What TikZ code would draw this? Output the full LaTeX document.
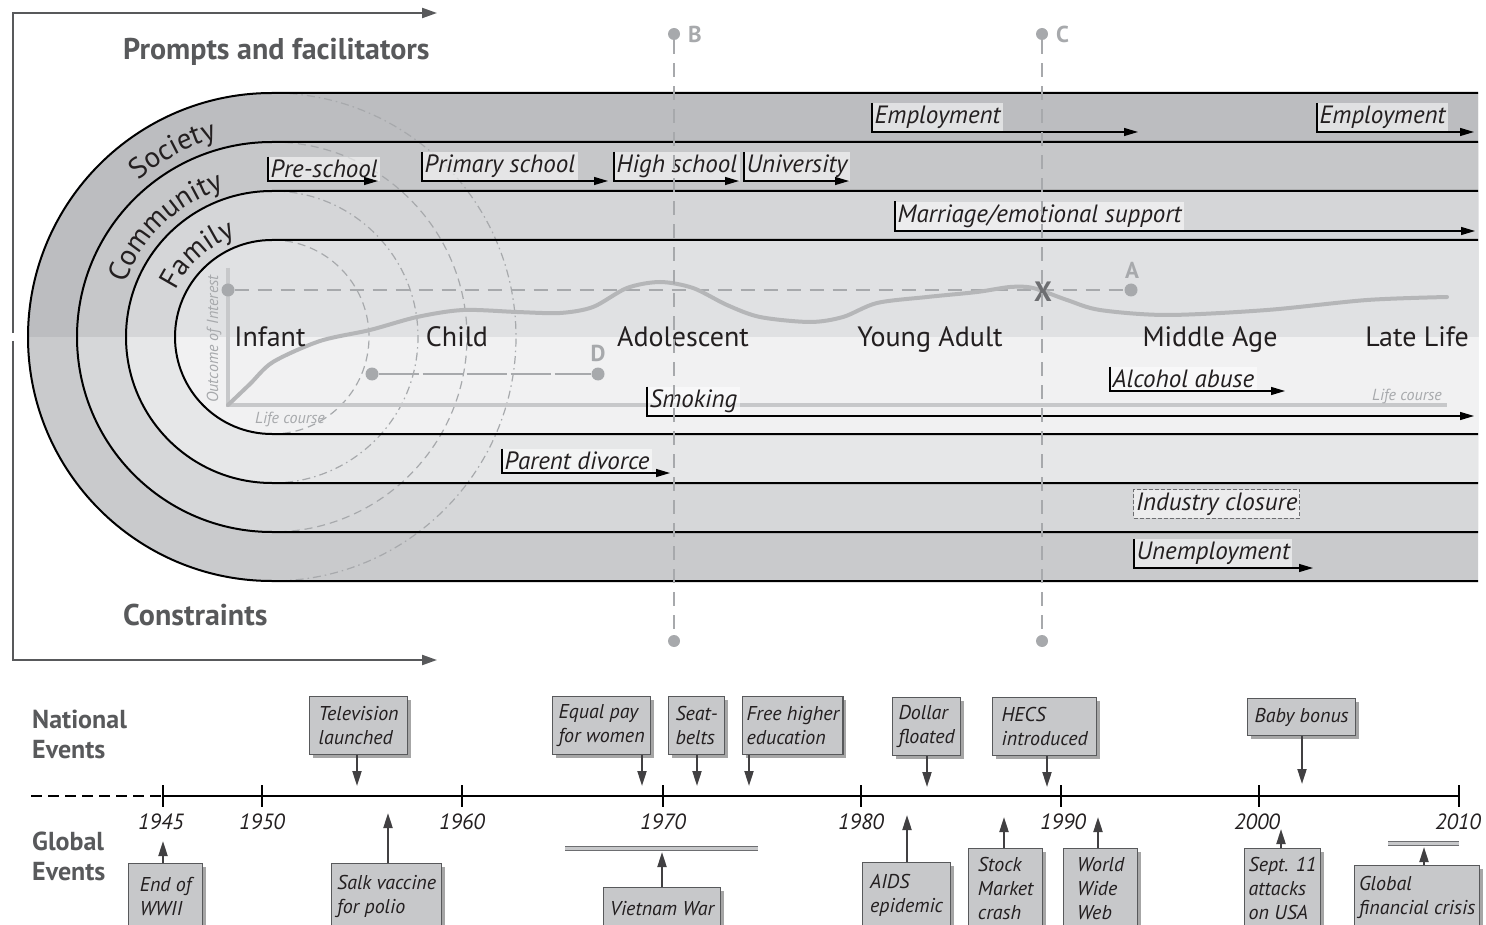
\documentclass[tikz,border=0pt]{standalone}
\usepackage{fontspec}
\setmainfont{PT Sans}
\usepackage{tikz}
\usetikzlibrary{arrows.meta}
\usetikzlibrary{decorations.text}
\usetikzlibrary{shadows}

\definecolor{ink}{HTML}{231F20}
\definecolor{headgrey}{HTML}{58595B}
\definecolor{markgrey}{HTML}{A7A9AC}
\definecolor{xgrey}{HTML}{6D6E71}
\definecolor{axisgrey}{HTML}{C7C8CA}
\definecolor{curvegrey}{HTML}{B5B6B8}
\definecolor{socup}{HTML}{BCBDC0}
\definecolor{soclo}{HTML}{C9CACC}
\definecolor{comup}{HTML}{C6C7C9}
\definecolor{comlo}{HTML}{D6D7D9}
\definecolor{famup}{HTML}{D5D6D8}
\definecolor{famlo}{HTML}{E6E7E8}
\definecolor{innup}{HTML}{E0E1E3}
\definecolor{innlo}{HTML}{F1F1F2}
\definecolor{boxfill}{HTML}{C7C8CA}
\definecolor{boxline}{HTML}{58595B}
\definecolor{arrowgrey}{HTML}{414042}

\newcommand\fsz[2]{\fontsize{#1}{#2}\selectfont}

\begin{document}
\begin{tikzpicture}[x=1pt,y=-1pt,
    frame/.style={draw=headgrey,line width=2.2pt,-{Triangle[length=15pt,width=10pt]}},
    heading/.style={font=\bfseries\fsz{30}{32},text=headgrey,inner sep=0pt,anchor=base west},
    band/.style={draw=black,line width=2pt},
    ringdash/.style={draw=markgrey,line width=1.2pt,dash pattern=on 8pt off 5pt},
    ringdot/.style={draw=markgrey,line width=1.2pt,dash pattern=on 8pt off 4pt on 1.5pt off 4pt},
    ringtext/.style={decorate,decoration={text along path,text align=center,text color=ink,text={#1}}},
    stage/.style={font=\fsz{28}{30},text=ink,inner sep=0pt,anchor=base},
    smallgrey/.style={font=\itshape\fsz{16}{18},text=markgrey,inner sep=0pt},
    axis/.style={draw=axisgrey,line width=3.5pt},
    lifeline/.style={draw=curvegrey,line width=4pt,line cap=round},
    guide/.style={draw=markgrey,line width=2.2pt,dash pattern=on 14pt off 9pt},
    dot/.style={circle,fill=markgrey,inner sep=0pt,minimum size=13pt},
    marker/.style={font=\bfseries\fsz{23}{24},text=markgrey,inner sep=0pt},
    tag/.style={anchor=south west,fill=white,fill opacity=.55,text opacity=1,text=ink,
      font=\itshape\fsz{25}{27},inner xsep=2.5pt,inner ysep=3pt},
    tagarrow/.style={draw=black,line width=1.2pt,-{Triangle[length=14pt,width=8pt]}},
    evbox/.style={anchor=north west,draw=boxline,fill=boxfill,line width=1.3pt,
      drop shadow={shadow xshift=3pt,shadow yshift=-3pt,fill=black,opacity=.35},
      font=\itshape\fsz{20}{24},text=ink,align=left,inner xsep=4pt,inner ysep=3pt},
    evarrow/.style={draw=arrowgrey,line width=2pt,-{Triangle[length=15pt,width=9pt]}},
    year/.style={font=\itshape\fsz{22}{24},text=ink,inner sep=0pt,anchor=base},
    tick/.style={draw=black,line width=2.5pt},
    span/.style={draw=xgrey,line width=1pt,double=axisgrey,double distance=3pt},
  ]
  \useasboundingbox (0,0) rectangle (1486,925);

  \coordinate (pf-start) at (13,333);
  \coordinate (pf-end) at (437,13);
  \coordinate (con-start) at (13,341);
  \coordinate (con-end) at (437,660);
  \draw[frame] (pf-start) |- (pf-end);
  \draw[frame] (con-start) |- (con-end);
  \node[heading] (prompts) at (123,60) {Prompts and facilitators};
  \node[heading] (constraints) at (123,625) {Constraints};

  \fill[soclo] (1478,93) -- (272,93) arc[start angle=90,end angle=270,radius=244pt] -- (1478,581) -- cycle;
  \fill[comlo] (1478,142) -- (272,142) arc[start angle=90,end angle=270,radius=195pt] -- (1478,532) -- cycle;
  \fill[famlo] (1478,191) -- (272,191) arc[start angle=90,end angle=270,radius=146pt] -- (1478,483) -- cycle;
  \fill[innlo] (1478,240) -- (272,240) arc[start angle=90,end angle=270,radius=97pt] -- (1478,434) -- cycle;
  \begin{scope}
    \clip (0,0) rectangle (1486,337);
    \fill[socup] (1478,93) -- (272,93) arc[start angle=90,end angle=270,radius=244pt] -- (1478,581) -- cycle;
    \fill[comup] (1478,142) -- (272,142) arc[start angle=90,end angle=270,radius=195pt] -- (1478,532) -- cycle;
    \fill[famup] (1478,191) -- (272,191) arc[start angle=90,end angle=270,radius=146pt] -- (1478,483) -- cycle;
    \fill[innup] (1478,240) -- (272,240) arc[start angle=90,end angle=270,radius=97pt] -- (1478,434) -- cycle;
  \end{scope}

  \draw[ringdash] (272,240) arc[start angle=90,end angle=-90,radius=97pt];
  \draw[ringdot] (272,191) arc[start angle=90,end angle=-90,radius=146pt];
  \draw[ringdash] (272,142) arc[start angle=90,end angle=-90,radius=195pt];
  \draw[ringdot] (272,93) arc[start angle=90,end angle=-90,radius=244pt];

  \draw[band] (1478,93) -- (272,93) arc[start angle=90,end angle=270,radius=244pt] -- (1478,581);
  \draw[band] (1478,142) -- (272,142) arc[start angle=90,end angle=270,radius=195pt] -- (1478,532);
  \draw[band] (1478,191) -- (272,191) arc[start angle=90,end angle=270,radius=146pt] -- (1478,483);
  \draw[band] (1478,240) -- (272,240) arc[start angle=90,end angle=270,radius=97pt] -- (1478,434);

  \path[ringtext={|\fsz{29}{29}|Society}] (272,337) ++(150:206pt) arc[start angle=150,end angle=86,radius=206pt];
  \path[ringtext={|\fsz{29}{29}|Community}] (272,337) ++(172:156pt) arc[start angle=172,end angle=96,radius=156pt];
  \path[ringtext={|\fsz{29}{29}|Family}] (272,337) ++(170:107pt) arc[start angle=170,end angle=94,radius=107pt];

  \draw[axis] (228,268) -- (228,405) -- (1447,405);
  \node[smallgrey,rotate=90] (ylabel) at (214,339) {Outcome of Interest};
  \node[smallgrey,anchor=base] (xlabel1) at (290,423) {Life course};
  \node[smallgrey,anchor=base] (xlabel2) at (1407,400) {Life course};
  \node[dot] (origin) at (228,290) {};
  \node[dot] (dotA) at (1131,290) {};
  \node[marker] (labA) at (1132,270) {A};
  \draw[guide] (origin) -- (dotA);
  \node[dot] (dotD1) at (372,374) {};
  \node[dot] (dotD2) at (598,374) {};
  \node[marker] (labD) at (598,353) {D};
  \draw[draw=markgrey,line width=2pt,dash pattern=on 40pt off 4pt] (dotD1) -- (dotD2);
  \draw[lifeline] plot[smooth,tension=.5] coordinates {(228,405) (250,384) (273,362) (320,341) (370,330)
    (417,317) (463,310) (517,312) (560,313) (593,307) (627,288) (660,282) (693,288) (727,305) (760,317)
    (810,322) (843,317) (877,303) (927,297) (977,292) (1010,287) (1033,288) (1067,300) (1100,310)
    (1167,315) (1267,310) (1367,300) (1447,297)};
  \node[font=\bfseries\fsz{28}{28},text=xgrey,inner sep=0pt] (cross) at (1043,292) {X};

  \node[stage] (infant) at (270,346) {Infant};
  \node[stage] (child) at (457,346) {Child};
  \node[stage] (adolescent) at (683,346) {Adolescent};
  \node[stage] (youngadult) at (930,346) {Young Adult};
  \node[stage] (middleage) at (1210,346) {Middle Age};
  \node[stage] (latelife) at (1417,346) {Late Life};

  \node[tag] (emp1) at (872,132) {Employment};
  \coordinate (emp1-tip) at (1138,132);
  \draw[tagarrow] (emp1.north west) |- (emp1-tip);
  \node[tag] (emp2) at (1317,132) {Employment};
  \coordinate (emp2-tip) at (1474,132);
  \draw[tagarrow] (emp2.north west) |- (emp2-tip);
  \node[tag] (preschool) at (268,181) {Pre-school};
  \coordinate (preschool-tip) at (378,181);
  \draw[tagarrow] (preschool.north west) |- (preschool-tip);
  \node[tag] (primary) at (422,181) {Primary school};
  \coordinate (primary-tip) at (608,181);
  \draw[tagarrow] (primary.north west) |- (primary-tip);
  \node[tag] (highschool) at (614,181) {High school};
  \coordinate (highschool-tip) at (739,181);
  \draw[tagarrow] (highschool.north west) |- (highschool-tip);
  \node[tag] (university) at (744,181) {University};
  \coordinate (university-tip) at (849,181);
  \draw[tagarrow] (university.north west) |- (university-tip);
  \node[tag] (marriage) at (895,231) {Marriage/emotional support};
  \coordinate (marriage-tip) at (1475,231);
  \draw[tagarrow] (marriage.north west) |- (marriage-tip);
  \node[tag] (alcohol) at (1110,391) {Alcohol abuse};
  \coordinate (alcohol-tip) at (1285,391);
  \draw[tagarrow] (alcohol.north west) |- (alcohol-tip);
  \node[tag] (smoking) at (647,416) {Smoking};
  \coordinate (smoking-tip) at (1474,416);
  \draw[tagarrow] (smoking.north west) |- (smoking-tip);
  \node[tag] (divorce) at (502,473) {Parent divorce};
  \coordinate (divorce-tip) at (670,473);
  \draw[tagarrow] (divorce.north west) |- (divorce-tip);
  \node[tag,anchor=north west,draw=xgrey,line width=1.2pt,dash pattern=on 4pt off 2pt] (closure) at (1133,489) {Industry closure};
  \node[tag] (unemployment) at (1134,568) {Unemployment};
  \coordinate (unemployment-tip) at (1313,568);
  \draw[tagarrow] (unemployment.north west) |- (unemployment-tip);

  \node[dot,minimum size=12pt] (dotB1) at (674,34) {};
  \node[dot,minimum size=12pt] (dotB2) at (674,641) {};
  \node[marker,anchor=west] (labB) at (688,34) {B};
  \draw[guide,line width=2pt] (dotB1) -- (dotB2);
  \node[dot,minimum size=12pt] (dotC1) at (1042,34) {};
  \node[dot,minimum size=12pt] (dotC2) at (1042,641) {};
  \node[marker,anchor=west] (labC) at (1056,34) {C};
  \draw[guide,line width=2pt] (dotC1) -- (dotC2);

  \node[heading,font=\bfseries\fsz{26}{28}] (national) at (32,728) {National};
  \node[heading,font=\bfseries\fsz{26}{28}] (national2) at (32,758) {Events};
  \node[heading,font=\bfseries\fsz{26}{28}] (global) at (32,850) {Global};
  \node[heading,font=\bfseries\fsz{26}{28}] (global2) at (32,880) {Events};

  \coordinate (t-start) at (31,796);
  \coordinate (t-1945) at (163,796);
  \coordinate (t-1950) at (262,796);
  \coordinate (t-1960) at (462,796);
  \coordinate (t-1970) at (663,796);
  \coordinate (t-1980) at (861,796);
  \coordinate (t-1990) at (1061,796);
  \coordinate (t-2000) at (1259,796);
  \coordinate (t-2010) at (1459,796);
  \draw[tick,line width=2.2pt,dash pattern=on 11pt off 6pt] (t-start) -- (t-1945);
  \draw[tick] (t-1945) -- (t-2010);
  \draw[tick] (t-1945) ++(0,-11) -- ++(0,22);
  \draw[tick] (t-1950) ++(0,-11) -- ++(0,22);
  \draw[tick] (t-1960) ++(0,-11) -- ++(0,22);
  \draw[tick] (t-1970) ++(0,-11) -- ++(0,22);
  \draw[tick] (t-1980) ++(0,-11) -- ++(0,22);
  \draw[tick] (t-1990) ++(0,-11) -- ++(0,22);
  \draw[tick] (t-2000) ++(0,-11) -- ++(0,22);
  \draw[tick] (t-2010) ++(0,-11) -- ++(0,22);
  \node[year] (y1945) at (161,829) {1945};
  \node[year] (y1950) at (262,829) {1950};
  \node[year] (y1960) at (462,829) {1960};
  \node[year] (y1970) at (663,829) {1970};
  \node[year] (y1980) at (861,829) {1980};
  \node[year] (y1990) at (1063,829) {1990};
  \node[year] (y2000) at (1257,829) {2000};
  \node[year] (y2010) at (1458,829) {2010};

  \node[evbox,minimum width=98pt,minimum height=58pt] (tv) at (309,696) {Television\\launched};
  \coordinate (tv-tip) at (357,786);
  \draw[evarrow] (tv.south -| tv-tip) -- (tv-tip);
  \node[evbox,minimum width=98pt,minimum height=58pt] (equalpay) at (552,696) {Equal pay\\for women};
  \coordinate (equalpay-tip) at (642,786);
  \draw[evarrow] (equalpay.south -| equalpay-tip) -- (equalpay-tip);
  \node[evbox,minimum width=56pt,minimum height=58pt] (seatbelts) at (668,696) {Seat-\\belts};
  \coordinate (seatbelts-tip) at (697,786);
  \draw[evarrow] (seatbelts.south -| seatbelts-tip) -- (seatbelts-tip);
  \node[evbox,minimum width=98pt,minimum height=58pt] (freeedu) at (742,696) {Free higher\\education};
  \coordinate (freeedu-tip) at (749,786);
  \draw[evarrow] (freeedu.south -| freeedu-tip) -- (freeedu-tip);
  \node[evbox,minimum width=68pt,minimum height=58pt] (dollar) at (892,697) {Dollar\\floated};
  \coordinate (dollar-tip) at (927,787);
  \draw[evarrow] (dollar.south -| dollar-tip) -- (dollar-tip);
  \node[evbox,minimum width=104pt,minimum height=58pt] (hecs) at (992,697) {HECS\\introduced};
  \coordinate (hecs-tip) at (1047,787);
  \draw[evarrow] (hecs.south -| hecs-tip) -- (hecs-tip);
  \node[evbox,minimum width=108pt,minimum height=37pt] (babybonus) at (1247,698) {Baby bonus};
  \coordinate (babybonus-tip) at (1302,784);
  \draw[evarrow] (babybonus.south -| babybonus-tip) -- (babybonus-tip);

  \node[evbox,minimum width=74pt,minimum height=65pt] (wwii) at (128,863) {End of\\WWII};
  \coordinate (wwii-tip) at (163,841);
  \draw[evarrow] (wwii.north -| wwii-tip) -- (wwii-tip);
  \node[evbox,minimum width=110pt,minimum height=65pt] (salk) at (331,863) {Salk vaccine\\for polio};
  \coordinate (salk-tip) at (388,813);
  \draw[evarrow] (salk.north -| salk-tip) -- (salk-tip);
  \draw[span] (565,848) -- (758,848);
  \node[evbox,minimum width=117pt,minimum height=41pt] (vietnam) at (603,887) {Vietnam War};
  \coordinate (vietnam-tip) at (662,852);
  \draw[evarrow] (vietnam.north -| vietnam-tip) -- (vietnam-tip);
  \node[evbox,minimum width=88pt,minimum height=66pt] (aids) at (862,862) {AIDS\\epidemic};
  \coordinate (aids-tip) at (907,815);
  \draw[evarrow] (aids.north -| aids-tip) -- (aids-tip);
  \node[evbox,minimum width=74pt,minimum height=80pt] (stock) at (968,848) {Stock\\Market\\crash};
  \coordinate (stock-tip) at (1004,817);
  \draw[evarrow] (stock.north -| stock-tip) -- (stock-tip);
  \node[evbox,minimum width=74pt,minimum height=80pt] (www) at (1063,848) {World\\Wide\\Web};
  \coordinate (www-tip) at (1098,817);
  \draw[evarrow] (www.north -| www-tip) -- (www-tip);
  \node[evbox,minimum width=74pt,minimum height=80pt] (sept) at (1244,848) {Sept. 11\\attacks\\on USA};
  \coordinate (sept-tip) at (1281,829);
  \draw[evarrow] (sept.north -| sept-tip) -- (sept-tip);
  \draw[span] (1388,843) -- (1459,843);
  \node[evbox,minimum width=125pt,minimum height=63pt] (gfc) at (1354,865) {Global\\financial crisis};
  \coordinate (gfc-tip) at (1424,847);
  \draw[evarrow] (gfc.north -| gfc-tip) -- (gfc-tip);
\end{tikzpicture}
\end{document}
